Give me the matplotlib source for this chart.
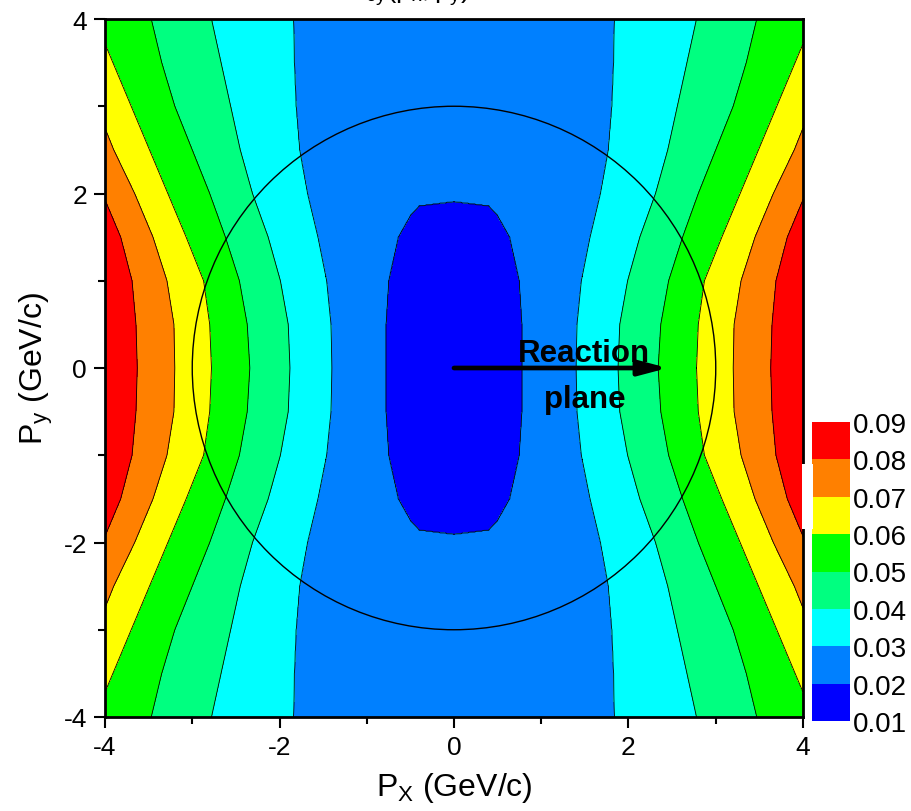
import numpy as np
import matplotlib
matplotlib.use("Agg")
import matplotlib.pyplot as plt
from matplotlib.patches import Circle, Rectangle

plt.rcParams['font.family'] = ['Liberation Sans', 'DejaVu Sans']
plt.rcParams['mathtext.fontset'] = 'custom'
plt.rcParams['mathtext.rm'] = 'Liberation Sans'
plt.rcParams['mathtext.it'] = 'Liberation Sans:italic'
plt.rcParams['mathtext.default'] = 'regular'
plt.rcParams['axes.unicode_minus'] = False

# contour levels and their fill colours
levels = [0.01, 0.02, 0.03, 0.04, 0.05, 0.06, 0.07, 0.08, 0.09]
level_labels = ['0.01', '0.02', '0.03', '0.04', '0.05', '0.06', '0.07', '0.08', '0.09']
band_colors = ['#0000FF', '#0080FF', '#00FFFF', '#00FF80',
               '#00FF00', '#FFFF00', '#FF8000', '#FF0000']

# |p_y| rows at which the iso-level positions |p_x| are given (GeV/c)
row_py = [0.0, 0.5, 1.0, 1.5, 2.0, 2.5, 3.0, 3.5, 4.0]
edge_003 = [1.40, 1.41, 1.46, 1.56, 1.68, 1.77, 1.81, 1.83, 1.84]
edge_004 = [1.88, 1.90, 1.99, 2.13, 2.31, 2.45, 2.56, 2.67, 2.78]
edge_005 = [2.34, 2.37, 2.46, 2.62, 2.80, 3.00, 3.20, 3.35, 3.47]
edge_006 = [2.78, 2.80, 2.87, 3.07, 3.28, 3.49, 3.70, 3.91, 4.12]
edge_007 = [3.20, 3.21, 3.29, 3.45, 3.66, 3.90, 4.10, 4.30, 4.50]
edge_008 = [3.63, 3.645, 3.69, 3.82, 4.03, 4.28, 4.50, 4.72, 4.95]
edge_009 = [4.06, 4.07, 4.10, 4.20, 4.40, 4.60, 4.85, 5.10, 5.35]

# closed 0.02 island around the origin
island_py = [0.0, 0.5, 1.0, 1.5, 1.75, 1.86, 1.91]
island_px = [0.78, 0.78, 0.75, 0.64, 0.50, 0.40, 0.0]

# value along p_x = 0
axis_py = [0.0, 1.91, 4.0]
axis_val = [0.015, 0.02, 0.024]

circle_radius = 3.0
arrow_end = 2.45
tick_major = [-4, -2, 0, 2, 4]
tick_minor = [-3, -1, 1, 3]

# build the distribution on a grid from the iso-level positions
px = np.linspace(-4, 4, 801)
py = np.linspace(-4, 4, 801)
edges = [edge_003, edge_004, edge_005, edge_006, edge_007, edge_008, edge_009]
z = np.empty((py.size, px.size))
for i, yv in enumerate(py):
    ay = abs(yv)
    pos = [0.0]
    val = [np.interp(ay, axis_py, axis_val)]
    if ay < island_py[-1]:
        pos.append(np.interp(ay, island_py, island_px))
        val.append(levels[1])
    for lev, arr in zip(levels[2:], edges):
        pos.append(np.interp(ay, row_py, arr))
        val.append(lev)
    z[i] = np.interp(np.abs(px), pos, val)

fig = plt.figure(figsize=(9.12, 8.12), dpi=100)
ax = fig.add_axes([105 / 912, 94 / 812, 698 / 912, 698 / 812])

cf = ax.contourf(px, py, z, levels=levels, colors=band_colors)
ax.contour(px, py, z, levels=levels, colors='black', linewidths=0.6)

ax.add_patch(Circle((0, 0), circle_radius, fill=False, lw=1.0, color='black', zorder=3))

ax.annotate('', xy=(arrow_end, 0), xytext=(0, 0),
            arrowprops=dict(arrowstyle='-|>,head_length=1.7,head_width=0.45',
                            lw=3.4, color='black', shrinkA=0, shrinkB=0,
                            capstyle='round'),
            zorder=5)
ax.text(1.49, 0.084, 'Reaction', ha='center', va='baseline',
        fontsize=22.5, fontweight='bold', zorder=6)
ax.text(1.5, -0.45, 'plane', ha='center', va='baseline',
        fontsize=22.5, fontweight='bold', zorder=6)

ax.set_xlim(-4, 4)
ax.set_ylim(-4, 4)
ax.set_xticks(tick_major)
ax.set_yticks(tick_major)
ax.set_xticks(tick_minor, minor=True)
ax.set_yticks(tick_minor, minor=True)
ax.tick_params(which='both', direction='out', width=1.5, top=False, right=False,
               labelsize=19)
ax.tick_params(which='major', length=8, pad=5)
ax.tick_params(which='minor', length=5)
for s in ax.spines.values():
    s.set_linewidth(2.0)

ax.set_xlabel(r'P$_\mathregular{X}$ (GeV/c)', fontsize=23, labelpad=8)
ax.set_ylabel(r'P$_\mathregular{y}$ (GeV/c)', fontsize=23, labelpad=6)

# title line sitting at the top edge of the figure
fig.text(0.45, 1.0 + 2 / 812, r'$v_{0y}(p_x, p_y)$', ha='center', va='baseline',
         fontsize=20)

cax = fig.add_axes([812 / 912, 90 / 812, 38 / 912, 299 / 812])
cb = fig.colorbar(cf, cax=cax, ticks=levels)
cb.outline.set_visible(False)
cb.ax.set_yticklabels(level_labels)
cb.ax.tick_params(length=0, labelsize=20, pad=2)

fig.patches.append(Rectangle((802 / 912, (812 - 530) / 812), 11 / 912, 65 / 812,
                             transform=fig.transFigure, facecolor='white',
                             edgecolor='none', zorder=10))

fig.savefig('out.png', dpi=100)
